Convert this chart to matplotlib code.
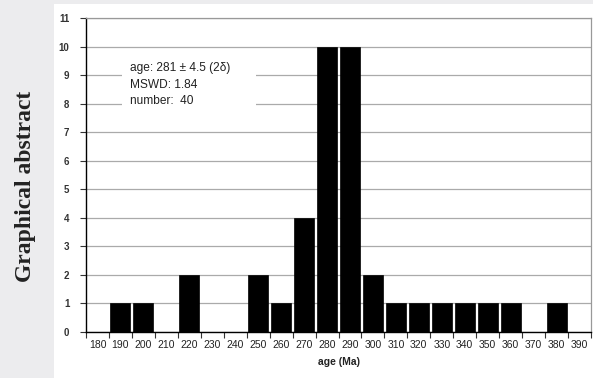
import matplotlib
matplotlib.use("Agg")
import matplotlib.pyplot as plt
from matplotlib.patches import Rectangle

ages = [180, 190, 200, 210, 220, 230, 240, 250, 260, 270, 280,
        290, 300, 310, 320, 330, 340, 350, 360, 370, 380, 390]
counts = [0, 1, 1, 0, 2, 0, 0, 2, 1, 4, 10,
          10, 2, 1, 1, 1, 1, 1, 1, 0, 1, 0]
y_ticks = list(range(0, 12))
x_label = "age (Ma)"
side_title = "Graphical abstract"
info_lines = ["age: 281 ± 4.5 (2δ)", "MSWD: 1.84", "number:  40"]

W, H = 593, 378
fig = plt.figure(figsize=(W / 100, H / 100), dpi=100)
fig.patch.set_facecolor("#ececee")

# white panel
fig.add_artist(Rectangle((54 / W, 0), 1 - 54 / W, 1 - 4 / H,
                         transform=fig.transFigure, facecolor="white",
                         edgecolor="none", zorder=0))

fig.text(26 / W, 192 / H, side_title, rotation=90, ha="center", va="center",
         family="Liberation Serif", fontweight="bold", fontsize=17,
         color="#222222")

ax = fig.add_axes([86 / W, (H - 332) / H, (591 - 86) / W, (332 - 18) / H])
ax.set_facecolor("white")
x = list(range(len(ages)))
ax.bar(x, counts, width=0.87, color="black", edgecolor="black",
       linewidth=0.5, zorder=3)
ax.set_xlim(-0.5, len(ages) - 0.5)
ax.set_ylim(0, 11)
ax.set_yticks(y_ticks)
ax.set_yticklabels([str(v) for v in y_ticks], family="Liberation Sans",
                   fontweight="bold", fontsize=7, color="#333333")
ax.set_xticks([i - 0.5 for i in range(len(ages) + 1)], minor=False)
ax.set_xticklabels([""] * (len(ages) + 1))
ax.set_xticks(x, minor=True)
ax.set_xticklabels([str(a) for a in ages], minor=True,
                   family="Liberation Sans", fontsize=7.5, color="#222222")
ax.tick_params(axis="x", which="minor", length=0, pad=6)
ax.tick_params(axis="x", which="major", length=4, width=0.8,
               direction="out", color="#333333")
ax.tick_params(axis="y", length=4, width=0.8, direction="out",
               color="#333333", pad=8)
ax.grid(axis="y", color="#aaaaaa", linewidth=0.9, zorder=0)
ax.set_axisbelow(True)
for s in ["top", "right"]:
    ax.spines[s].set_color("#999999")
    ax.spines[s].set_linewidth(0.9)
ax.spines["left"].set_color("black")
ax.spines["bottom"].set_color("black")
ax.spines["left"].set_linewidth(1.0)
ax.spines["bottom"].set_linewidth(1.0)
ax.set_xlabel(x_label, family="Liberation Sans", fontweight="bold",
              fontsize=7.5, color="#222222", labelpad=5)

# info box
fig.add_artist(Rectangle((122 / W, (H - 110) / H), (256 - 122) / W, 50 / H,
                         transform=fig.transFigure, facecolor="white",
                         edgecolor="none", zorder=5))
for i, line in enumerate(info_lines):
    fig.text(130 / W, (H - 68 - i * 16.5) / H, line, ha="left", va="center",
             family="Liberation Sans", fontsize=8.6, color="#222222", zorder=6)

fig.savefig("out.png", dpi=100, facecolor=fig.get_facecolor())
